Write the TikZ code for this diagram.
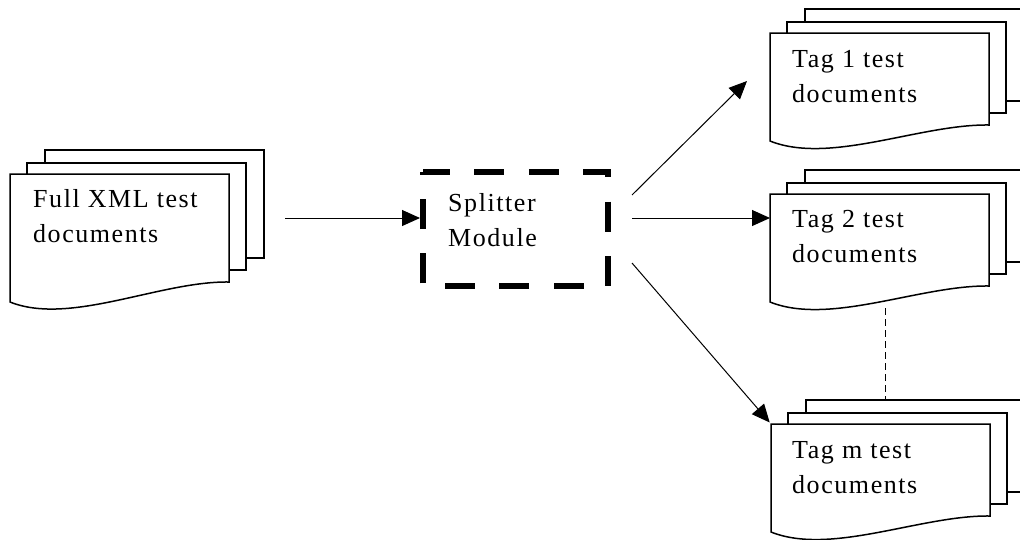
\documentclass[tikz,border=0pt]{standalone}
\usepackage{fontspec}
\setmainfont{Liberation Serif}[LetterSpace=6]
\usetikzlibrary{arrows.meta}
\tikzset{
  page/.style={line width=1.5pt, line join=miter},
  docbox/.style={inner sep=0pt, outer sep=0pt, minimum width=219pt, anchor=north west},
  doctext/.style={inner sep=0pt, anchor=base west, align=left, font=\fontsize{26}{35}\selectfont},
  arr/.style={line width=1pt, -{Triangle[length=18pt,width=16pt]}},
  splitborder/.style={line width=6.5pt, dash pattern=on 30pt off 24.4pt, dash phase=3pt},
  dashline/.style={line width=1pt, dash pattern=on 7pt off 4pt}
}
\newcommand\docstack[5]{%
  \draw[page] (#2+17,#3) -- (#2+17,#3-11) -- (#2+236,#3-11) -- (#2+236,#3+#4-12) -- (#2+219,#3+#4-12);
  \draw[page] (#2+35,#3-11) -- (#2+35,#3-24) -- (#2+254,#3-24) -- (#2+254,#3+#4-24) -- (#2+236,#3+#4-24);
  \draw[page] (#2,#3) -- (#2+219,#3) -- (#2+219,#3+#4) .. controls (#2+150,#3+#4-1) and (#2+60,#3+#4+#5+24) .. (#2,#3+#4+#5) -- cycle;
  \node[docbox, minimum height=#4pt] (#1) at (#2,#3) {};
}
\begin{document}
\begin{tikzpicture}[x=1pt,y=-1pt]
\useasboundingbox (0,0) rectangle (1020,539);
\clip (0,0) rectangle (1020,539);
% document stacks
\docstack{full}{10}{174}{108}{20}
\docstack{tag1}{770}{33}{92}{16}
\docstack{tag2}{770}{194}{92}{16}
\docstack{tagm}{771}{424}{92}{16}
% texts (anchor = baseline of the last line)
\node[doctext] (fulltext) at (33,242) {Full XML test\\documents};
\node[doctext] (tag1text) at (792,102) {Tag 1 test\\documents};
\node[doctext] (tag2text) at (792,262) {Tag 2 test\\documents};
\node[doctext] (tagmtext) at (792,493) {Tag m test\\documents};
% splitter
\node[inner sep=0pt, outer sep=0pt, minimum width=185pt, minimum height=114pt] (split) at (515.5,229) {};
\draw[splitborder] (split.north west) -- (split.north east) -- (split.south east) -- (split.south west) -- cycle;
\node[doctext] (splittext) at (448,246) {Splitter\\Module};
% connectors
\coordinate (a0) at (285,218);
\draw[arr, shorten >=3pt] (a0) -- (a0 -| split.west);
\coordinate (a1) at (632,195);
\coordinate (a1e) at (747,81);
\draw[arr] (a1) -- (a1e);
\coordinate (a2) at (632,218);
\draw[arr] (a2) -- (a2 -| tag2.west);
\coordinate (a3) at (632,263);
\draw[arr, shorten >=2pt] (a3) -- (tagm.north west);
\coordinate (d0) at (885,308);
\coordinate (d1) at (885,401);
\draw[dashline] (d0) -- (d1);
\end{tikzpicture}
\end{document}
